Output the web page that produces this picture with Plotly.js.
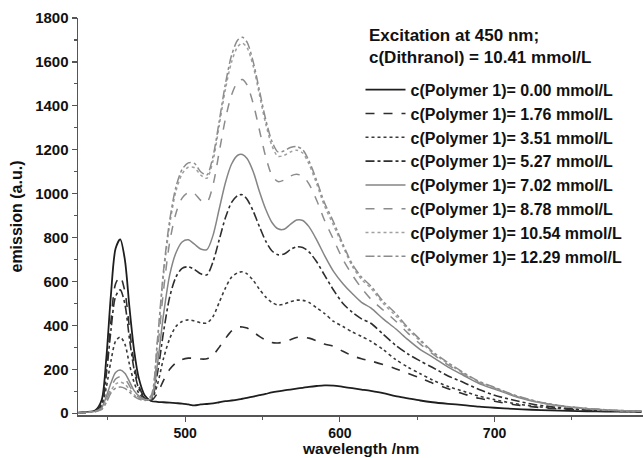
<!DOCTYPE html>
<html>
<head>
<meta charset="utf-8">
<script src="https://cdn.plot.ly/plotly-3.0.1.min.js"></script>
<style>html,body{margin:0;padding:0;background:#fff;} #chart{width:643px;height:458px;}</style>
</head>
<body>
<div id="chart"></div>
<script>
const wavelength = [430,436,442,446,449,452,455,458,461,464,467,470,474,478,482,486,490,494,498,502,506,510,514,518,522,526,530,534,537,540,544,548,552,556,560,564,568,572,576,580,585,590,596,602,608,614,620,628,636,644,652,660,670,680,690,700,712,724,736,748,760,772,784,795];

const names = [
  "c(Polymer 1)= 0.00 mmol/L",
  "c(Polymer 1)= 1.76 mmol/L",
  "c(Polymer 1)= 3.51 mmol/L",
  "c(Polymer 1)= 5.27 mmol/L",
  "c(Polymer 1)= 7.02 mmol/L",
  "c(Polymer 1)= 8.78 mmol/L",
  "c(Polymer 1)= 10.54 mmol/L",
  "c(Polymer 1)= 12.29 mmol/L"
];

const p000 = [2,5,14,60,250,540,750,792,700,480,285,160,80,56,52,50,48,46,44,40,36,40,42,45,50,55,58,62,66,70,76,82,88,95,100,104,108,112,116,120,124,127,126,120,114,108,102,92,78,68,58,50,43,37,30,25,20,16,13,11,9,8,7,6];
const p176 = [2,4,11,48,200,420,590,622,555,385,225,125,70,58,90,150,200,230,245,251,250,247,248,265,300,340,375,392,393,388,370,350,333,322,320,325,335,345,347,342,330,315,305,282,262,248,238,222,203,182,160,137,112,88,68,55,40,30,22,17,13,10,8,7];
const p351 = [2,4,9,32,118,238,328,347,315,222,140,92,65,60,130,250,340,395,418,425,420,412,411,440,505,570,620,640,644,635,605,565,530,505,493,497,508,515,514,505,480,455,418,395,370,350,328,290,245,210,180,151,122,100,78,62,45,33,25,19,14,11,9,8];
const p527 = [2,4,10,40,175,378,532,562,498,338,198,112,67,62,180,370,530,620,660,667,655,635,630,690,790,890,960,992,995,975,920,850,785,740,722,725,745,758,755,735,690,630,560,500,460,430,410,360,310,270,238,208,170,140,108,82,60,42,30,22,16,12,10,8];
const p702 = [2,4,9,25,76,138,186,197,182,144,103,79,63,65,220,450,630,730,780,790,770,748,745,810,930,1050,1135,1175,1178,1160,1100,1010,930,870,840,838,860,880,878,850,790,720,645,590,545,505,480,430,385,335,290,256,210,172,135,110,80,56,40,28,20,15,11,9];
const p878 = [2,4,8,20,61,115,156,167,157,125,92,73,61,70,280,560,780,910,980,1005,1000,970,960,1040,1190,1340,1450,1510,1520,1495,1410,1290,1170,1085,1055,1062,1080,1088,1080,1045,970,880,790,700,630,570,520,470,420,365,315,270,220,178,140,115,82,58,41,29,21,15,11,9];
const p1054 = [2,4,8,18,55,102,133,141,133,108,84,68,59,78,320,630,860,1010,1090,1120,1118,1085,1070,1150,1310,1475,1600,1670,1685,1665,1580,1450,1320,1220,1170,1175,1190,1198,1185,1135,1045,945,855,760,670,610,570,500,445,382,328,275,226,182,143,116,84,59,41,29,21,15,11,9];
const p1229 = [2,4,8,17,48,92,114,119,113,96,77,65,58,80,330,650,880,1030,1110,1140,1138,1100,1085,1170,1330,1500,1630,1700,1712,1690,1600,1470,1340,1240,1190,1195,1210,1215,1200,1150,1060,960,870,770,680,620,580,510,455,390,335,280,230,185,145,118,85,60,42,30,22,16,12,10];

const series = [p000,p176,p351,p527,p702,p878,p1054,p1229];
const styles = [
  {color:'#1e1e1e', dash:'solid',   width:1.8},
  {color:'#2e2e2e', dash:'dash',    width:1.6},
  {color:'#3a3a3a', dash:'dot',     width:1.6},
  {color:'#2e2e2e', dash:'dashdot', width:1.6},
  {color:'#858585', dash:'solid',   width:1.5},
  {color:'#8c8c8c', dash:'dash',    width:1.5},
  {color:'#a0a0a0', dash:'dot',     width:1.5},
  {color:'#8c8c8c', dash:'dashdot', width:1.5}
];

const traces = series.map((s,i)=>({
  x: wavelength, y: s, type:'scatter', mode:'lines', name:names[i],
  line:{color:styles[i].color, dash:styles[i].dash, width:styles[i].width, shape:'spline', smoothing:0.8}
}));

const FAM = 'Liberation Sans, Arial, sans-serif';
const f = (size)=>({family:FAM, size:size, color:'#111', weight:'bold'});

const layout = {
  width:643, height:458,
  margin:{l:78, r:0, t:18, b:43},
  paper_bgcolor:'#fff', plot_bgcolor:'#fff',
  showlegend:true,
  legend:{x:0.5, y:0.862, xanchor:'left', yanchor:'top', bgcolor:'rgba(0,0,0,0)',
          font:f(16), traceorder:'normal', tracegroupgap:0, itemwidth:40},
  xaxis:{range:[430.7,796], showgrid:false, zeroline:false, showline:true, linecolor:'#555', linewidth:1.5,
         ticks:'outside', ticklen:5, tickwidth:1.2, tickcolor:'#555', dtick:100, tick0:0,
         minor:{ticks:'outside', ticklen:3, dtick:50, tick0:0, tickcolor:'#555', showgrid:false},
         tickfont:f(14), automargin:false},
  yaxis:{range:[-8,1800], showgrid:false, zeroline:false, showline:true, linecolor:'#555', linewidth:1.5,
         ticks:'outside', ticklen:5, tickwidth:1.2, tickcolor:'#555', dtick:200, tick0:0,
         minor:{ticks:'outside', ticklen:3, dtick:100, tick0:0, tickcolor:'#555', showgrid:false},
         tickfont:f(15), automargin:false,
         title:{text:'emission (a.u.)', font:f(16), standoff:8}},
  annotations:[{
    xref:'paper', yref:'paper', x:0.511, y:0.985, xanchor:'left', yanchor:'top', align:'left',
    text:'Excitation at 450 nm;<br>c(Dithranol) = 10.41 mmol/L', showarrow:false,
    font:f(17)
  },{
    xref:'paper', yref:'paper', x:0.5, y:-0.0843, xanchor:'center', yanchor:'middle',
    text:'wavelength /nm', showarrow:false, font:f(15.5), borderpad:0
  }]
};

Plotly.newPlot('chart', traces, layout, {displayModeBar:false, staticPlot:true});
</script>
</body>
</html>
